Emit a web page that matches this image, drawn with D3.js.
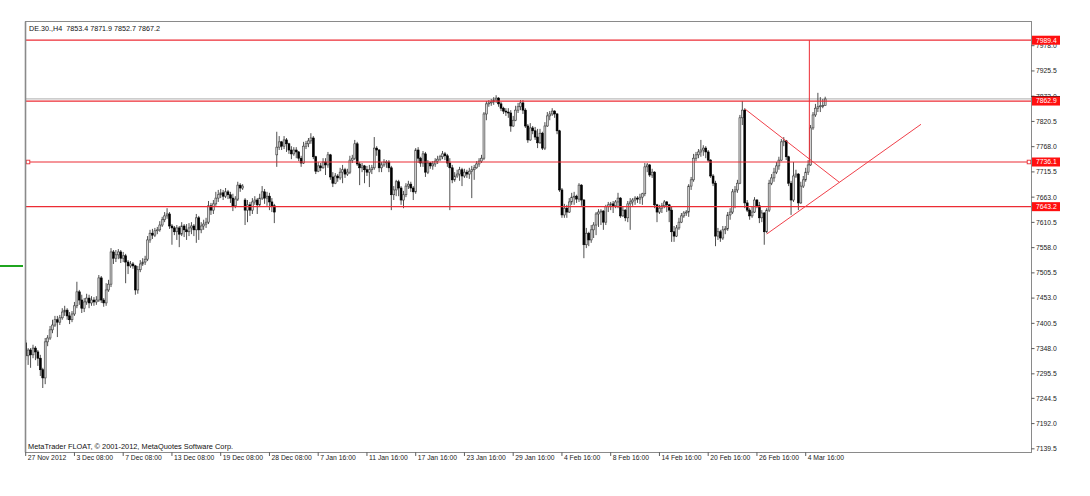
<!DOCTYPE html>
<html><head><meta charset="utf-8">
<script src="https://cdn.jsdelivr.net/npm/d3@7"></script>
<style>body{margin:0;background:#fff}svg{display:block}</style>
</head><body><svg id="c" width="1090" height="496"></svg>
<script>
const opens = [7360,7333,7345,7335,7349,7341,7328,7304,7287,7362,
7370,7387,7397,7408,7403,7412,7424,7428,7416,7408,
7420,7437,7466,7449,7432,7445,7453,7443,7449,7445,
7449,7495,7449,7443,7470,7482,7549,7536,7543,7549,
7536,7541,7528,7520,7524,7520,7470,7512,7524,7528,
7534,7574,7588,7584,7593,7595,7605,7616,7624,7628,
7603,7599,7591,7599,7586,7603,7595,7591,7599,7603,
7595,7620,7595,7603,7607,7611,7645,7636,7649,7661,
7668,7672,7665,7674,7668,7661,7645,7659,7688,7682,
7657,7636,7647,7636,7653,7657,7647,7661,7674,7661,
7665,7653,7645,7751,7767,7778,7769,7782,7774,7761,
7753,7761,7757,7744,7734,7769,7774,7780,7786,7747,
7717,7728,7724,7736,7730,7751,7705,7692,7707,7703,
7715,7720,7711,7715,7740,7744,7774,7732,7724,7728,
7720,7715,7720,7724,7765,7761,7724,7730,7736,7736,
7724,7668,7678,7695,7682,7657,7668,7686,7690,7682,
7674,7761,7744,7734,7753,7715,7734,7728,7732,7738,
7742,7747,7753,7749,7734,7724,7699,7707,7711,7720,
7707,7715,7711,7717,7720,7724,7732,7738,7744,7836,
7857,7859,7861,7865,7869,7857,7848,7842,7840,7838,
7811,7823,7844,7851,7859,7844,7811,7782,7807,7801,
7788,7776,7796,7765,7811,7832,7836,7842,7836,7801,
7678,7626,7640,7632,7653,7663,7665,7659,7688,7657,
7564,7588,7574,7595,7605,7628,7632,7634,7611,7643,
7647,7649,7645,7653,7661,7624,7636,7620,7649,7653,
7657,7661,7659,7663,7670,7726,7730,7709,7715,7647,
7632,7640,7645,7653,7647,7636,7591,7582,7599,7611,
7624,7630,7632,7686,7699,7744,7751,7757,7761,7765,
7757,7740,7707,7692,7582,7591,7578,7595,7597,7626,
7632,7674,7678,7692,7828,7844,7651,7636,7624,7632,
7657,7645,7620,7630,7591,7636,7692,7703,7715,7728,
7740,7778,7780,7747,7692,7657,7707,7711,7651,7686,
7699,7715,7730,7807,7834,7848,7851,7853,7853.4];

const highs = [7366,7349,7349,7356,7353,7345,7335,7308,7370,7376,
7395,7408,7416,7416,7418,7432,7437,7432,7424,7426,
7445,7487,7470,7460,7453,7462,7460,7457,7455,7457,
7501,7499,7453,7484,7491,7557,7553,7553,7555,7553,
7549,7545,7532,7530,7528,7522,7520,7532,7536,7541,
7582,7595,7597,7599,7601,7613,7622,7632,7640,7632,
7607,7603,7605,7603,7611,7607,7607,7609,7611,7607,
7628,7624,7611,7616,7620,7655,7651,7657,7674,7678,
7680,7678,7682,7678,7674,7670,7665,7695,7692,7690,
7661,7657,7653,7661,7665,7661,7670,7686,7680,7674,
7672,7661,7649,7799,7790,7780,7790,7786,7776,7769,
7767,7767,7759,7749,7778,7780,7786,7796,7790,7749,
7736,7734,7744,7744,7757,7753,7715,7713,7711,7724,
7730,7724,7722,7749,7751,7782,7778,7736,7734,7730,
7728,7730,7730,7788,7769,7763,7736,7742,7740,7740,
7728,7686,7699,7699,7686,7676,7692,7697,7695,7686,
7765,7767,7747,7759,7757,7740,7736,7738,7744,7749,
7751,7759,7757,7753,7744,7730,7715,7720,7726,7724,
7722,7720,7724,7728,7730,7738,7744,7751,7840,7863,
7865,7867,7871,7875,7871,7861,7851,7848,7848,7844,
7832,7853,7859,7865,7865,7848,7815,7817,7811,7809,
7805,7805,7799,7819,7840,7842,7848,7844,7838,7803,
7682,7649,7647,7661,7672,7674,7668,7692,7690,7659,
7599,7591,7605,7611,7632,7638,7638,7636,7647,7653,
7653,7655,7657,7672,7663,7643,7638,7655,7661,7661,
7665,7665,7670,7672,7734,7734,7732,7722,7717,7649,
7647,7651,7657,7655,7649,7643,7603,7605,7620,7630,
7634,7636,7690,7705,7753,7757,7763,7782,7771,7769,
7761,7742,7711,7697,7599,7595,7603,7603,7632,7640,
7680,7686,7699,7834,7863,7848,7657,7640,7643,7663,
7659,7653,7636,7632,7640,7699,7711,7724,7736,7747,
7784,7788,7782,7749,7697,7736,7720,7713,7695,7707,
7724,7740,7813,7840,7857,7880,7871,7867,7871.9];

const lows = [7324,7314,7308,7328,7324,7312,7291,7266,7274,7353,
7366,7380,7393,7372,7397,7408,7416,7408,7399,7403,
7416,7432,7439,7422,7424,7439,7432,7437,7437,7439,
7445,7443,7435,7437,7466,7476,7524,7528,7534,7526,
7528,7484,7503,7516,7514,7460,7462,7507,7520,7522,
7530,7568,7576,7580,7586,7591,7601,7611,7618,7597,
7564,7584,7574,7559,7582,7580,7574,7582,7586,7582,
7568,7574,7588,7595,7599,7607,7626,7628,7645,7653,
7661,7657,7661,7659,7651,7634,7640,7655,7674,7678,
7605,7611,7624,7628,7647,7628,7643,7657,7649,7645,
7636,7632,7609,7726,7761,7761,7763,7757,7753,7742,
7749,7744,7738,7726,7732,7763,7767,7774,7742,7711,
7715,7717,7722,7709,7724,7699,7684,7690,7695,7699,
7692,7703,7707,7711,7734,7740,7728,7688,7715,7692,
7707,7684,7711,7720,7749,7715,7715,7726,7724,7715,
7636,7657,7665,7665,7647,7640,7663,7680,7674,7657,
7670,7734,7726,7726,7705,7711,7722,7720,7726,7732,
7738,7742,7740,7726,7636,7692,7695,7703,7697,7686,
7703,7703,7701,7661,7699,7722,7726,7734,7740,7823,
7851,7853,7855,7859,7851,7842,7836,7832,7828,7799,
7809,7821,7838,7844,7836,7807,7776,7780,7794,7782,
7765,7774,7761,7761,7809,7823,7832,7828,7794,7674,
7620,7620,7620,7630,7647,7647,7651,7653,7645,7536,
7557,7561,7568,7578,7584,7601,7605,7595,7605,7632,
7636,7630,7640,7640,7620,7622,7613,7611,7595,7645,
7647,7651,7649,7647,7665,7715,7705,7703,7640,7611,
7628,7630,7640,7632,7611,7570,7570,7580,7595,7609,
7620,7624,7622,7678,7695,7738,7744,7747,7749,7744,
7736,7703,7686,7561,7574,7570,7574,7586,7593,7616,
7628,7640,7672,7690,7813,7640,7632,7616,7620,7630,
7640,7609,7611,7564,7588,7632,7688,7695,7711,7720,
7738,7769,7740,7686,7626,7653,7703,7636,7649,7682,
7695,7709,7728,7803,7830,7840,7840,7848,7852.7];

const closes = [7333,7345,7335,7349,7341,7328,7304,7287,7362,7370,
7387,7397,7408,7403,7412,7424,7428,7416,7408,7420,
7437,7466,7449,7432,7445,7453,7443,7449,7445,7449,
7495,7449,7443,7470,7482,7549,7536,7543,7549,7536,
7541,7528,7520,7524,7520,7470,7512,7524,7528,7534,
7574,7588,7584,7593,7595,7605,7616,7624,7628,7603,
7599,7591,7599,7586,7603,7595,7591,7599,7603,7595,
7620,7595,7603,7607,7611,7645,7636,7649,7661,7668,
7672,7665,7674,7668,7661,7645,7659,7688,7682,7686,
7636,7647,7636,7653,7657,7647,7661,7674,7661,7665,
7653,7645,7632,7767,7778,7769,7782,7774,7761,7753,
7761,7757,7744,7734,7769,7774,7780,7786,7747,7717,
7728,7724,7736,7730,7751,7705,7692,7707,7703,7715,
7720,7711,7715,7740,7744,7774,7732,7724,7728,7720,
7715,7720,7724,7765,7761,7724,7730,7736,7736,7724,
7668,7678,7695,7682,7657,7668,7686,7690,7682,7674,
7761,7744,7734,7753,7715,7734,7728,7732,7738,7742,
7747,7753,7749,7734,7724,7699,7707,7711,7720,7707,
7715,7711,7717,7720,7724,7732,7738,7744,7836,7857,
7859,7861,7865,7869,7857,7848,7842,7840,7838,7811,
7823,7844,7851,7859,7844,7811,7782,7807,7801,7788,
7776,7796,7765,7811,7832,7836,7842,7836,7801,7678,
7626,7640,7632,7653,7663,7665,7659,7688,7657,7564,
7588,7574,7595,7605,7628,7632,7634,7611,7643,7647,
7649,7645,7653,7661,7624,7636,7620,7649,7653,7657,
7661,7659,7663,7670,7726,7730,7709,7715,7647,7632,
7640,7645,7653,7647,7636,7591,7582,7599,7611,7624,
7630,7632,7686,7699,7744,7751,7757,7761,7765,7757,
7740,7707,7692,7582,7591,7578,7595,7597,7626,7632,
7674,7678,7692,7828,7844,7651,7636,7624,7632,7657,
7645,7620,7630,7591,7636,7692,7703,7715,7728,7740,
7778,7780,7747,7692,7657,7707,7711,7651,7686,7699,
7715,7730,7807,7834,7848,7851,7853,7853.4,7867.2];

const xTickBars = [0,20,40,60,80,100,120,140,160,180,200,220,240,260,280,300,320];
const xTickLabels = ["27 Nov 2012","3 Dec 08:00","7 Dec 08:00","13 Dec 08:00","19 Dec 08:00","28 Dec 08:00","7 Jan 16:00","11 Jan 16:00","17 Jan 16:00","23 Jan 16:00","29 Jan 16:00","4 Feb 16:00","8 Feb 16:00","14 Feb 16:00","20 Feb 16:00","26 Feb 16:00","4 Mar 16:00"];
const yTickValues = [7978.0,7925.5,7873.0,7820.5,7768.0,7715.5,7663.0,7610.5,7558.0,7505.5,7453.0,7400.5,7348.0,7295.5,7244.5,7192.0,7139.5];
const levelPrices = [7989.4, 7862.9, 7736.1, 7643.2];
const bidPrice = 7867.2;
const titleText = "DE.30.,H4  7853.4 7871.9 7852.7 7867.2";
const footerText = "MetaTrader FLOAT, \u00A9 2001-2012, MetaQuotes Software Corp.";
// trend objects: [barIndex, price]
const triangleUpper = [[295.1, 7846.3], [333.8, 7693.9]];
const triangleLower = [[304.0, 7586.3], [367.3, 7814.5]];
const breakoutLine = [[321.5, 7989.4], [321.5, 7736.1]];

const svg = d3.select("#c");
const L = 25.5, R = 1031.5, T = 21.5, B = 452.5;
const x = d3.scaleLinear().domain([0, 320]).range([25.7, 805.7]);
const y = d3.scaleLinear().domain([7132.9, 8027.3]).range([452, 22]);
const FONT = "Liberation Sans, Arial, sans-serif";

svg.append("defs").append("clipPath").attr("id","pc")
  .append("rect").attr("x",L).attr("y",T).attr("width",R-L).attr("height",B-T);

// title
svg.append("text").attr("x",29).attr("y",31).attr("font-family",FONT).attr("font-size",7.2)
  .attr("fill","#111").attr("xml:space","preserve").style("white-space","pre").text(titleText);

// green marker at left
svg.append("line").attr("x1",0).attr("x2",23).attr("y1",266).attr("y2",266)
  .attr("stroke","#1fa51f").attr("stroke-width",2);

const g = svg.append("g").attr("clip-path","url(#pc)");

// bid line
g.append("line").attr("x1",L).attr("x2",R).attr("y1",y(bidPrice)).attr("y2",y(bidPrice))
  .attr("stroke","#bdbdbd").attr("stroke-width",1.2);

// candles
const n = Math.min(opens.length, highs.length, lows.length, closes.length);
const idx = d3.range(n);
const cg = g.append("g");
cg.selectAll("line.w").data(idx).join("line").attr("class","w")
  .attr("x1",i=>x(i)).attr("x2",i=>x(i))
  .attr("y1",i=>y(Math.max(highs[i],opens[i],closes[i])))
  .attr("y2",i=>y(Math.min(lows[i],opens[i],closes[i])))
  .attr("stroke","#3c3c3c").attr("stroke-width",0.9);
const bw = 1.9;
cg.selectAll("rect.b").data(idx).join("rect").attr("class","b")
  .attr("x",i=>x(i)-bw/2).attr("width",bw)
  .attr("y",i=>y(Math.max(opens[i],closes[i])))
  .attr("height",i=>Math.max(0.8, y(Math.min(opens[i],closes[i]))-y(Math.max(opens[i],closes[i]))))
  .attr("fill",i=>closes[i]>=opens[i]?"#d4d4d4":"#000")
  .attr("stroke",i=>closes[i]>=opens[i]?"#3a3a3a":"#000")
  .attr("stroke-width",0.6);

// horizontal levels
const RED = "#ec2c34";
g.selectAll("line.lv").data(levelPrices).join("line").attr("class","lv")
  .attr("x1",L).attr("x2",R).attr("y1",d=>y(d)).attr("y2",d=>y(d))
  .attr("stroke",RED).attr("stroke-width",1.2);

// trend lines
const lineGen = d3.line().x(d=>x(d[0])).y(d=>y(d[1]));
[triangleUpper, triangleLower].forEach(seg=>{
  g.append("path").attr("d",lineGen(seg)).attr("fill","none")
    .attr("stroke","#f0404a").attr("stroke-width",1);
});
g.append("path").attr("d",lineGen(breakoutLine)).attr("fill","none")
  .attr("stroke",RED).attr("stroke-width",1);

// small square markers on the 7736.1 level
[L+2.5, R-2.5].forEach(px=>{
  svg.append("rect").attr("x",px-1.8).attr("y",y(levelPrices[2])-1.8).attr("width",3.6).attr("height",3.6)
    .attr("fill","#fff").attr("stroke",RED).attr("stroke-width",0.9);
});

// frame
svg.append("rect").attr("x",L).attr("y",T).attr("width",R-L).attr("height",B-T)
  .attr("fill","none").attr("stroke","#8a8a8a").attr("stroke-width",1);
svg.append("line").attr("x1",L).attr("x2",L).attr("y1",T).attr("y2",B)
  .attr("stroke","#8a8a8a").attr("stroke-width",1.6);

// right axis
const ra = svg.append("g");
ra.selectAll("line").data(yTickValues).join("line")
  .attr("x1",R).attr("x2",R+3).attr("y1",d=>y(d)).attr("y2",d=>y(d))
  .attr("stroke","#333").attr("stroke-width",0.8);
ra.selectAll("text").data(yTickValues).join("text")
  .attr("x",R+4.5).attr("y",d=>y(d)).attr("dy","0.35em")
  .attr("font-family",FONT).attr("font-size",6.8).attr("fill","#222")
  .text(d=>d3.format(".1f")(d));

// bid marker line on axis
svg.append("line").attr("x1",R).attr("x2",1060).attr("y1",96.5).attr("y2",96.5)
  .attr("stroke","#222").attr("stroke-width",1);

// level labels
const lab = svg.append("g");
lab.selectAll("rect").data(levelPrices).join("rect")
  .attr("x",R+0.5).attr("y",d=>y(d)-4.5).attr("width",28).attr("height",9)
  .attr("fill","#ff1010");
lab.selectAll("text").data(levelPrices).join("text")
  .attr("x",R+4.5).attr("y",d=>y(d)).attr("dy","0.35em")
  .attr("font-family",FONT).attr("font-size",6.8).attr("fill","#fff")
  .text(d=>d3.format(".1f")(d));

// bottom axis
const ba = svg.append("g");
ba.selectAll("line").data(xTickBars).join("line")
  .attr("x1",d=>x(d)).attr("x2",d=>x(d)).attr("y1",B).attr("y2",B+3.5)
  .attr("stroke","#333").attr("stroke-width",0.8);
ba.selectAll("text").data(xTickBars).join("text")
  .attr("x",d=>x(d)+2).attr("y",459.5)
  .attr("font-family",FONT).attr("font-size",6.8).attr("fill","#222")
  .text((d,i)=>xTickLabels[i]);

// footer
svg.append("text").attr("x",28).attr("y",448.5).attr("font-family",FONT).attr("font-size",7.4)
  .attr("fill","#111").text(footerText);
</script>
</body></html>
